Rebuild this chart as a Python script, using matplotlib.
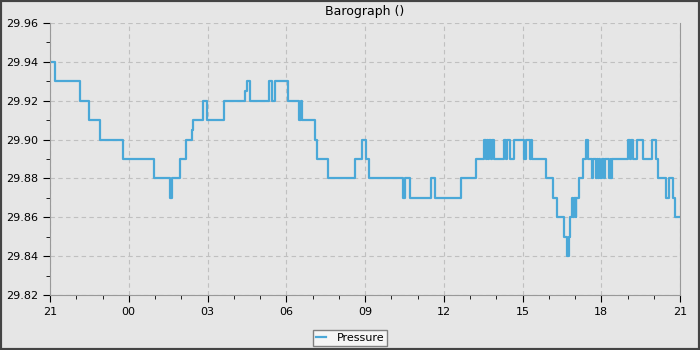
import matplotlib
matplotlib.use("Agg")
import matplotlib.pyplot as plt
from matplotlib.patches import Rectangle
from matplotlib.ticker import MultipleLocator, FormatStrFormatter

# hours after 21:00 of the previous day, pressure (inHg), step changes
hours = [0.00, 0.19, 1.14, 1.50, 1.90, 2.79, 3.97, 4.58, 4.64, 4.95,
         5.17, 5.40, 5.46, 5.84, 5.97, 6.63, 7.43, 7.49, 7.62, 8.35,
         8.44, 8.57, 9.08, 9.50, 9.55, 9.60, 10.10, 10.18, 10.60, 11.62,
         11.88, 12.02, 12.15, 13.46, 13.54, 13.71, 14.51, 14.67, 15.66, 16.23,
         16.53, 16.60, 16.63, 16.70, 16.73, 16.80, 16.83, 16.93, 17.31, 17.38,
         17.42, 17.52, 17.69, 18.07, 18.13, 18.29, 18.32, 18.35, 18.90, 19.15,
         19.30, 19.59, 19.68, 19.76, 19.81, 19.87, 19.93, 19.97, 20.02, 20.05,
         20.16, 20.29, 20.42, 20.51, 20.64, 20.68, 20.80, 20.85, 20.88, 20.93,
         20.96, 21.02, 21.10, 21.14, 21.31, 21.36, 21.38, 21.42, 22.03, 22.10,
         22.12, 22.21, 22.36, 22.59, 22.92, 23.07, 23.16, 23.46, 23.58, 23.72,
         23.81, 24.00]
pressure = [29.94, 29.93, 29.92, 29.91, 29.90, 29.89, 29.88, 29.87, 29.88, 29.89,
            29.90, 29.905, 29.91, 29.92, 29.91, 29.92, 29.925, 29.93, 29.92, 29.93,
            29.92, 29.93, 29.92, 29.91, 29.92, 29.91, 29.90, 29.89, 29.88, 29.89,
            29.90, 29.89, 29.88, 29.87, 29.88, 29.87, 29.88, 29.87, 29.88, 29.89,
            29.90, 29.89, 29.90, 29.89, 29.90, 29.89, 29.90, 29.89, 29.90, 29.89,
            29.90, 29.89, 29.90, 29.89, 29.90, 29.89, 29.90, 29.89, 29.88, 29.87,
            29.86, 29.85, 29.84, 29.85, 29.86, 29.87, 29.86, 29.87, 29.86, 29.87,
            29.88, 29.89, 29.90, 29.89, 29.88, 29.89, 29.88, 29.89, 29.88, 29.89,
            29.88, 29.89, 29.88, 29.89, 29.88, 29.89, 29.88, 29.89, 29.90, 29.89,
            29.90, 29.89, 29.90, 29.89, 29.90, 29.89, 29.88, 29.87, 29.88, 29.87,
            29.86, 29.86]

tick_labels = ["21", "00", "03", "06", "09", "12", "15", "18", "21"]

bg = "#e6e6e6"
fig = plt.figure(figsize=(7, 3.5), dpi=100, facecolor=bg)
ax = fig.add_axes([50 / 700, 55 / 350, 630 / 700, 272 / 350])
ax.set_facecolor(bg)

ax.plot(hours, pressure, drawstyle="steps-post", color="#4aa8d8", lw=1.6,
        label="Pressure")

ax.set_xlim(0, 24)
ax.set_ylim(29.82, 29.96)
ax.xaxis.set_minor_locator(MultipleLocator(1))
ax.set_xticks(range(0, 25, 3))
ax.set_xticklabels(tick_labels)
ax.yaxis.set_major_locator(MultipleLocator(0.02))
ax.yaxis.set_minor_locator(MultipleLocator(0.01))
ax.yaxis.set_major_formatter(FormatStrFormatter("%.2f"))
ax.tick_params(which="major", length=5, labelsize=8, color="black")
ax.tick_params(which="minor", length=3, color="black")

ax.grid(True, which="major", color="#c0c0c0", ls=(0, (4, 3)), lw=0.8)
for s in ["left", "bottom", "right"]:
    ax.spines[s].set_color("#999999")
ax.spines["top"].set_visible(False)

ax.set_title("Barograph ()", fontsize=9, pad=6)

leg = fig.legend(loc="center", bbox_to_anchor=(0.5, 0.034), fontsize=8,
                 fancybox=False, framealpha=1, facecolor="#f5f5f5",
                 edgecolor="#808080", handlelength=0.9, handletextpad=1.0,
                 borderpad=0.25, borderaxespad=0)
leg.get_frame().set_linewidth(1)

fig.patches.append(Rectangle((0, 0), 1, 1, transform=fig.transFigure,
                             fill=False, ec="#444444", lw=3))

fig.savefig("out.png", dpi=100, facecolor=bg)
